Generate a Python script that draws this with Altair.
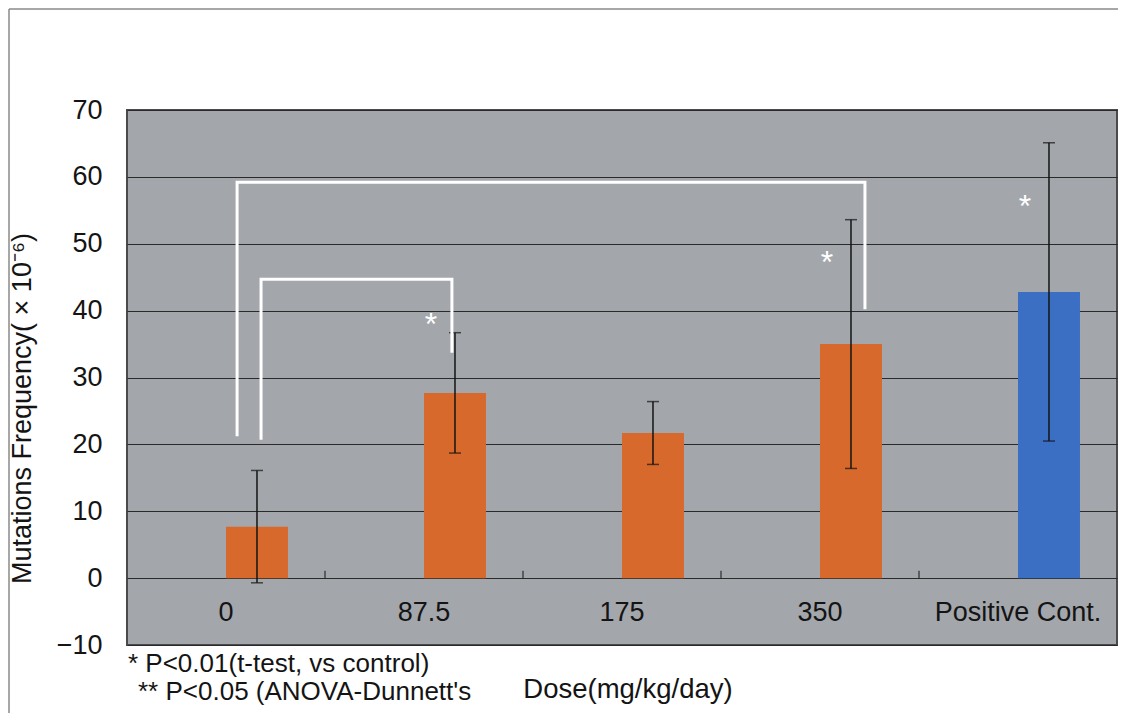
import altair as alt
import pandas as pd

# ---- data ----
categories = ["0", "87.5", "175", "350", "Positive Cont."]
means = [7.7, 27.7, 21.7, 35.0, 42.8]
errors = [8.4, 9.0, 4.7, 18.6, 22.3]
groups = ["dose", "dose", "dose", "dose", "positive"]

star_cats = ["87.5", "350", "Positive Cont."]
star_y = [38.9, 48.2, 56.6]

bracket_left = ["0", "0"]
bracket_right = ["350", "87.5"]
bracket_top = [59.2, 44.7]
bracket_left_bottom = [21.2, 20.7]
bracket_right_bottom = [40.2, 33.7]

y_ticks = [-10, 0, 10, 20, 30, 40, 50, 60, 70]

note1 = "* P<0.01(t-test, vs control)"
note2 = "** P<0.05 (ANOVA-Dunnett's"
x_title = "Dose(mg/kg/day)"
y_title = "Mutations Frequency( × 10⁻⁶)"

# ---- styling ----
ORANGE = "#d8692c"
BLUE = "#3a6fc4"
BG = "#a3a6ab"
INK = "#141414"
FONT = "Liberation Sans"

N = len(categories)
BAR_W = 0.313
idx = {c: i for i, c in enumerate(categories)}

df = pd.DataFrame({"cat": categories, "mean": means, "err": errors, "group": groups})
df["i"] = range(N)
df["x0"] = df["i"] + 0.5
df["x1"] = df["x0"] + BAR_W
df["xc"] = df["x0"] + BAR_W / 2
df["lo"] = df["mean"] - df["err"]
df["hi"] = df["mean"] + df["err"]

xs = alt.Scale(domain=[0, N], nice=False, zero=False)
ys = alt.Scale(domain=[y_ticks[0], y_ticks[-1]], nice=False, zero=False)

base = alt.Chart(df)

bars = base.mark_bar().encode(
    x=alt.X("x0:Q", scale=xs, axis=None),
    x2="x1:Q",
    y=alt.Y(
        "mean:Q",
        scale=ys,
        axis=alt.Axis(
            values=y_ticks,
            grid=True,
            gridColor="#2a2a2a",
            gridWidth=1,
            ticks=False,
            domain=False,
            labelFont=FONT,
            labelFontSize=27,
            labelColor=INK,
            labelPadding=25,
            title=y_title,
            titleFont=FONT,
            titleFontSize=27,
            titleFontWeight="normal",
            titleColor=INK,
            titleX=-105,
            titleY=298,
            titleAngle=270,
            titleAlign="center",
            titleBaseline="middle",
        ),
    ),
    y2=alt.datum(0),
    color=alt.Color("group:N", scale=alt.Scale(domain=["dose", "positive"], range=[ORANGE, BLUE]), legend=None),
)

err_rule = base.mark_rule(color=INK, strokeWidth=1.5).encode(
    x=alt.X("xc:Q", scale=xs), y=alt.Y("lo:Q", scale=ys), y2="hi:Q"
)
cap_lo = base.mark_tick(orient="horizontal", size=12, thickness=1.5, color=INK).encode(
    x=alt.X("xc:Q", scale=xs), y=alt.Y("lo:Q", scale=ys)
)
cap_hi = base.mark_tick(orient="horizontal", size=12, thickness=1.5, color=INK).encode(
    x=alt.X("xc:Q", scale=xs), y=alt.Y("hi:Q", scale=ys)
)

# zero line ticks at band boundaries
tick_df = pd.DataFrame({"b": list(range(1, N))})
zero_ticks = alt.Chart(tick_df).mark_rule(color=INK, strokeWidth=1).encode(
    x=alt.X("b:Q", scale=xs), y=alt.Y(datum=0, scale=ys), y2=alt.datum(1.1)
)

# category labels inside the plot below zero
cat_labels = base.mark_text(font=FONT, fontSize=27, color=INK, baseline="middle").encode(
    x=alt.X("x0:Q", scale=xs), y=alt.Y(datum=-5.2, scale=ys), text="cat:N"
)

# brackets
left_off = [0.056, 0.177]
right_off = [0.227, 0.141]
rows = []
for k in range(len(bracket_left)):
    xl = idx[bracket_left[k]] + 0.5 + left_off[k]
    xr = idx[bracket_right[k]] + 0.5 + right_off[k]
    pts = [(xl, bracket_left_bottom[k]), (xl, bracket_top[k]), (xr, bracket_top[k]), (xr, bracket_right_bottom[k])]
    for o, (px, py) in enumerate(pts):
        rows.append({"b": k, "o": o, "bx": px, "by": py})
br_df = pd.DataFrame(rows)
brackets = alt.Chart(br_df).mark_line(color="white", strokeWidth=3, strokeJoin="miter").encode(
    x=alt.X("bx:Q", scale=xs), y=alt.Y("by:Q", scale=ys), detail="b:N", order="o:Q"
)

star_df = pd.DataFrame({"cat": star_cats, "sy": star_y})
star_df["sx"] = [idx[c] + 0.5 + 0.035 for c in star_cats]
stars = alt.Chart(star_df).mark_text(text="*", font=FONT, fontSize=32, color="white", baseline="middle", dy=7).encode(
    x=alt.X("sx:Q", scale=xs), y=alt.Y("sy:Q", scale=ys)
)

one = alt.Chart(pd.DataFrame({"a": [0]}))
t_note1 = one.mark_text(text=note1, font=FONT, fontSize=26, color=INK, align="left", baseline="middle").encode(
    x=alt.value(1), y=alt.value(554)
)
t_note2 = one.mark_text(text=note2, font=FONT, fontSize=26, color=INK, align="left", baseline="middle").encode(
    x=alt.value(11), y=alt.value(582)
)
t_xtitle = one.mark_text(text=x_title, font=FONT, fontSize=27.5, color=INK, align="center", baseline="middle").encode(
    x=alt.value(501), y=alt.value(580)
)

frame_left = one.mark_rule(color="#8a8a8a", strokeWidth=1.5).encode(
    x=alt.value(-118), y=alt.value(-101), y2=alt.value(610)
)
frame_top = one.mark_rule(color="#8a8a8a", strokeWidth=1.5).encode(
    x=alt.value(-118), x2=alt.value(995), y=alt.value(-101)
)

chart = (
    alt.layer(
        bars, err_rule, cap_lo, cap_hi, zero_ticks, cat_labels, brackets, stars,
        t_note1, t_note2, t_xtitle, frame_left, frame_top,
    )
    .properties(
        width=990,
        height=535,
        autosize=alt.AutoSizeParams(type="none"),
        padding={"left": 119, "top": 102, "right": 1, "bottom": 68},
        background="white",
    )
    .configure_view(fill=BG, stroke="#4a4a4a", strokeWidth=2)
)

chart.save("out.html", embed_options={"renderer": "svg", "actions": False})
